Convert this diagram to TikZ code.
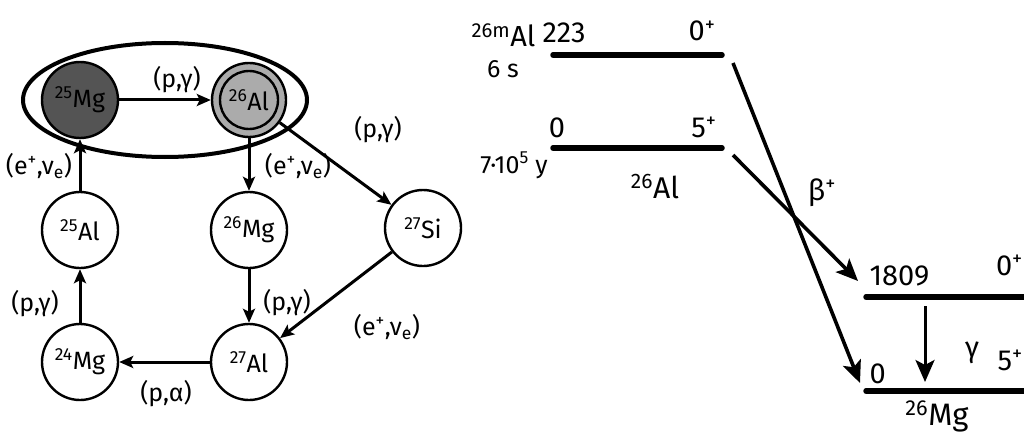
\documentclass[tikz,border=0pt]{standalone}
\usepackage{fontspec}
\setmainfont{Fira Sans}
\usetikzlibrary{shapes.geometric,arrows.meta}
\begin{document}
\begin{tikzpicture}[x=1pt,y=-1pt,
  nuc/.style={circle,draw,line width=2.4pt,minimum size=76pt,inner sep=0pt,font=\fontsize{25}{26}\selectfont},
  arr/.style={line width=3pt,-{Stealth[length=14pt,width=12pt,inset=3pt]}},
  lbl/.style={font=\fontsize{25}{26}\selectfont},
  big/.style={line width=3.6pt,-{Stealth[length=22pt,width=19pt,inset=5pt]}},
  lev/.style={line width=5.5pt,line cap=round},
  rt/.style={font=\fontsize{29}{30}\selectfont}]
\useasboundingbox (0,0) rectangle (1024,441);
% cycle ring
\node[ellipse,draw,line width=4pt,minimum width=284pt,minimum height=114pt] (ring) at (165,100) {};
% nuclei
\node[nuc,fill=black!67] (mg25) at (80,100) {\textsuperscript{25}Mg};
\node[nuc,fill=black!33,minimum size=74pt] (al26) at (249,100) {};
\node[circle,draw,line width=2.4pt,minimum size=58pt,inner sep=0pt,font=\fontsize{25}{26}\selectfont] (al26in) at (al26.center) {\textsuperscript{26}Al};
\node[nuc] (al25) at (80,230) {\textsuperscript{25}Al};
\node[nuc] (mg26) at (249,230) {\textsuperscript{26}Mg};
\node[nuc] (si27) at (423,228) {\textsuperscript{27}Si};
\node[nuc] (mg24) at (80,362) {\textsuperscript{24}Mg};
\node[nuc] (al27) at (249,362) {\textsuperscript{27}Al};
% reactions
\draw[arr] (mg25) -- (al26);
\draw[arr] (al26) -- (si27);
\draw[arr] (al26) -- (mg26);
\draw[arr] (al25) -- (mg25);
\draw[arr] (mg24) -- (al25);
\draw[arr] (mg26) -- (al27);
\draw[arr] (si27) -- (al27);
\draw[arr] (al27) -- (mg24);
\node[lbl] (l1) at (177,80) {(p,γ)};
\node[lbl] (l2) at (378,130) {(p,γ)};
\node[lbl] (l3) at (298,166) {(e\textsuperscript{+},ν\textsubscript{e})};
\node[lbl] (l4) at (39,166) {(e\textsuperscript{+},ν\textsubscript{e})};
\node[lbl] (l5) at (35,304) {(p,γ)};
\node[lbl] (l6) at (287,303) {(p,γ)};
\node[lbl] (l7) at (387,327) {(e\textsuperscript{+},ν\textsubscript{e})};
\node[lbl] (l8) at (166,394) {(p,α)};
% level scheme
\coordinate (m1) at (553,55); \coordinate (m2) at (722,55);
\coordinate (g1) at (553,148); \coordinate (g2) at (722,148);
\coordinate (e1) at (866,297); \coordinate (e2) at (1034,297);
\coordinate (z1) at (866,391); \coordinate (z2) at (1034,391);
\draw[lev] (m1) -- (m2);
\draw[lev] (g1) -- (g2);
\draw[lev] (e1) -- (e2);
\draw[lev] (z1) -- (z2);
\coordinate (b1s) at (733,63); \coordinate (b1e) at (860,383);
\coordinate (b2s) at (733,155); \coordinate (b2e) at (858,281);
\draw[big] (b1s) -- (b1e);
\draw[big] (b2s) -- (b2e);
\coordinate (gs) at (925,306); \coordinate (ge) at (925,382);
\draw[big,line width=3pt] (gs) -- (ge);
\node[rt,anchor=base east] (t1) at (539,47) {\textsuperscript{26m}Al};
\node[rt,anchor=base west] (t2) at (539,43) {223};
\node[rt,anchor=base] (t3) at (702,41) {0\textsuperscript{+}};
\node[font=\fontsize{25}{26}\selectfont,anchor=base] (t4) at (503,78) {6 s};
\node[rt,anchor=base] (t5) at (557,137) {0};
\node[rt,anchor=base] (t6) at (704,137) {5\textsuperscript{+}};
\node[font=\fontsize{25}{26}\selectfont,anchor=base] (t7) at (514,173) {7·10\textsuperscript{5} y};
\node[font=\fontsize{30}{30}\selectfont,anchor=base] (t8) at (655,198) {\textsuperscript{26}Al};
\node[rt,anchor=base] (t9) at (822,200) {β\textsuperscript{+}};
\node[rt,anchor=base west] (t10) at (866,285) {1809};
\node[rt,anchor=base east,inner xsep=1pt] (t11) at (1024,275) {0\textsuperscript{+}};
\node[rt,anchor=base] (t12) at (972,357) {γ};
\node[rt,anchor=base east,inner xsep=1pt] (t13) at (1024,370) {5\textsuperscript{+}};
\node[rt,anchor=base west] (t14) at (866,383) {0};
\node[font=\fontsize{31}{32}\selectfont,anchor=base] (t15) at (937,425) {\textsuperscript{26}Mg};
\end{tikzpicture}
\end{document}
